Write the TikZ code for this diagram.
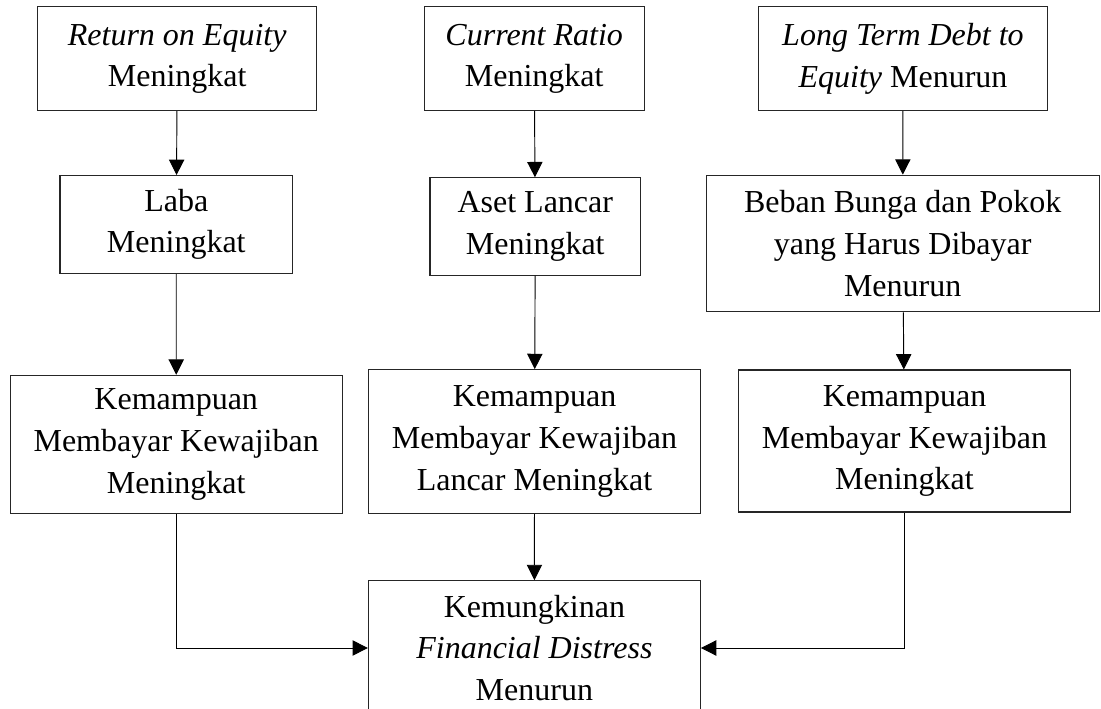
\documentclass[tikz,border=0pt]{standalone}
\usepackage{fontspec}
\setmainfont{Liberation Serif}
\usetikzlibrary{arrows.meta}

\tikzset{
	kotak/.style={draw=black!85, line width=0.8pt, align=center, inner sep=0pt,
		font=\fontsize{24}{31.2}\selectfont},
	panah/.style={-{Triangle[length=11.5pt,width=11.5pt]}, line width=0.7pt}
}

\begin{document}
\begin{tikzpicture}[x=0.75pt, y=-0.75pt]
				\useasboundingbox (0,0) rectangle (1101,709);
				
				% baris atas
				\node[kotak, minimum width=209.3pt, minimum height=78pt] (roe) at (177.2,58.7) {\textit{Return on Equity}\\Meningkat};
				\node[kotak, minimum width=165.2pt, minimum height=78pt] (cr) at (534.2,58.7) {\textit{Current Ratio}\\Meningkat};
				\node[kotak, minimum width=217pt, minimum height=78pt] (ltd) at (903,58.7) {\textit{Long Term Debt to}\\\textit{Equity} Menurun};
				
				% baris kedua
				\node[kotak, minimum width=174.5pt, minimum height=73.5pt] (laba) at (176.3,224.5) {Laba\\Meningkat};
				\node[kotak, minimum width=158pt, minimum height=73pt] (aset) at (535.3,226.5) {Aset Lancar\\Meningkat};
				\node[kotak, minimum width=295pt, minimum height=102.5pt] (beban) at (902.7,243.5) {Beban Bunga dan Pokok\\yang Harus Dibayar\\Menurun};
				
				% baris ketiga
				\node[kotak, minimum width=249.2pt, minimum height=103.8pt] (kemA) at (176.2,444.5) {Kemampuan\\Membayar Kewajiban\\Meningkat};
				\node[kotak, minimum width=249.2pt, minimum height=107.8pt] (kemB) at (534.5,441.5) {Kemampuan\\Membayar Kewajiban\\Lancar Meningkat};
				\node[kotak, minimum width=249.2pt, minimum height=106.5pt] (kemC) at (904.5,441) {Kemampuan\\Membayar Kewajiban\\Meningkat};
				
				\node[kotak, minimum width=249pt, minimum height=101pt] (fd) at (534.4,648) {Kemungkinan\\\textit{Financial Distress}\\Menurun};
				
				\draw[panah] (roe) -- (laba);
				\draw[panah] (cr) -- (aset);
				\draw[panah] (ltd) -- (beban);
				
				\draw[panah] (laba) -- (kemA);
				\draw[panah] (aset) -- (kemB);
				\draw[panah] (beban) -- (kemC);
				
				\draw[panah] (kemA) |- (fd);
				\draw[panah] (kemB) -- (fd);
				\draw[panah] (kemC) |- (fd);
			\end{tikzpicture}
\end{document}
